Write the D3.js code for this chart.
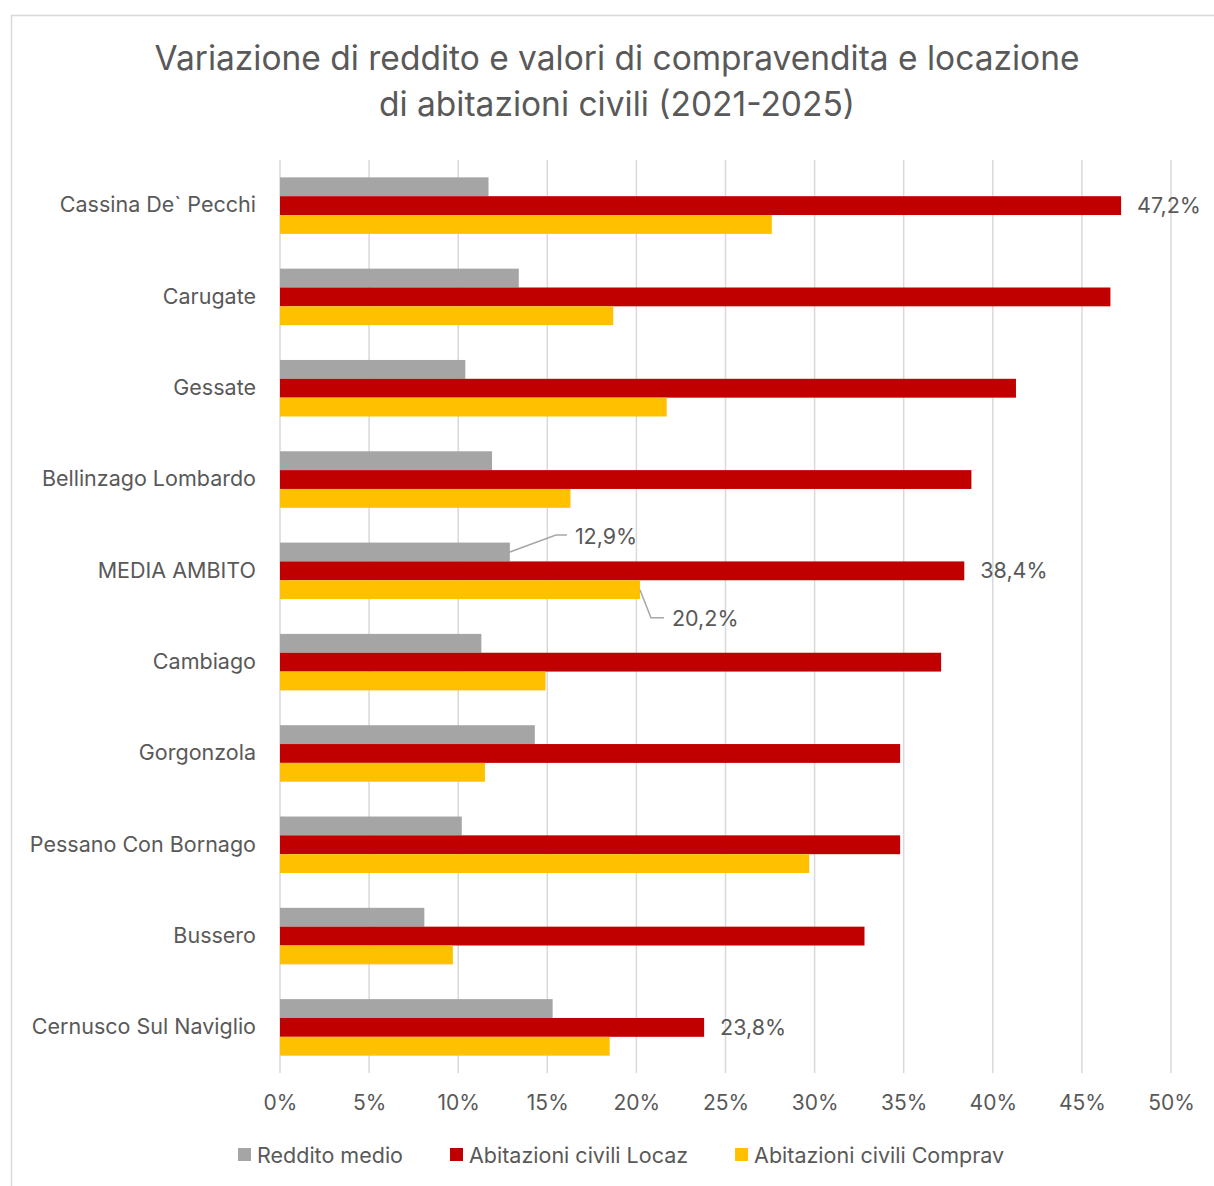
<!DOCTYPE html>
<html>
<head>
<meta charset="utf-8">
<script src="https://cdn.jsdelivr.net/npm/d3@7"></script>
<style>
  body { margin: 0; background: #fff; }
  svg text { font-family: "Inter", "Open Sans", sans-serif; fill: #595959; }
</style>
</head>
<body>
<svg id="chart" width="1214" height="1186"></svg>
<script>
// --- data ---
const comuni = [
    "Cassina De` Pecchi", "Carugate", "Gessate", "Bellinzago Lombardo", "MEDIA AMBITO",
    "Cambiago", "Gorgonzola", "Pessano Con Bornago", "Bussero", "Cernusco Sul Naviglio"
];
const serie = ["Reddito medio", "Abitazioni civili Locaz", "Abitazioni civili Comprav"];
const reddito = [11.7, 13.4, 10.4, 11.9, 12.9, 11.3, 14.3, 10.2, 8.1, 15.3];
const locaz   = [47.2, 46.6, 41.3, 38.8, 38.4, 37.1, 34.8, 34.8, 32.8, 23.8];
const comprav = [27.6, 18.7, 21.7, 16.3, 20.2, 14.9, 11.5, 29.7, 9.7, 18.5];
const xTicks = [0, 5, 10, 15, 20, 25, 30, 35, 40, 45, 50];
const colori = ["#A5A5A5", "#C00000", "#FFC000"];

const svg = d3.select("#chart");
const fmt = v => d3.format(".1f")(v).replace(".", ",") + "%";
const FONT = '"Inter", "Open Sans", sans-serif';

// chart frame
svg.append("rect").attr("x", 11.5).attr("y", 15.5).attr("width", 1220).attr("height", 1200)
    .attr("fill", "#fff").attr("stroke", "#d9d9d9").attr("stroke-width", 1.5);

// title
const title = svg.append("text").attr("text-anchor", "middle").attr("font-size", 33.5);
title.append("tspan").attr("x", 617).attr("y", 70).text("Variazione di reddito e valori di compravendita e locazione");
title.append("tspan").attr("x", 617).attr("y", 116).text("di abitazioni civili (2021-2025)");

// scales
const x = d3.scaleLinear().domain([0, 50]).range([280, 1171]);
const y = d3.scaleBand().domain(comuni).range([160, 1073]).paddingInner(0.381).paddingOuter(0.19);
const ySub = d3.scaleBand().domain(serie).range([0, y.bandwidth()]);

// grid
svg.append("g").attr("class", "grid").selectAll("line").data(xTicks).enter().append("line")
    .attr("x1", d => x(d)).attr("x2", d => x(d))
    .attr("y1", 160).attr("y2", 1073)
    .attr("stroke", "#d9d9d9").attr("stroke-width", 1.5);

// x axis labels
const xAxis = svg.append("g").attr("transform", "translate(0,1103)")
    .call(d3.axisBottom(x).tickValues(xTicks).tickSize(0).tickPadding(0).tickFormat(d => d + "%"));
xAxis.select(".domain").remove();
xAxis.selectAll("text").attr("font-size", 21).attr("dy", "0.35em").attr("fill", "#595959")
    .style("font-family", FONT);

// y axis labels
const yAxis = svg.append("g").attr("transform", "translate(256,0)")
    .call(d3.axisLeft(y).tickSize(0).tickPadding(0));
yAxis.select(".domain").remove();
yAxis.selectAll("text").attr("font-size", 21.5).attr("fill", "#595959")
    .style("font-family", FONT);

// bars
const rows = comuni.map((c, i) => ({ comune: c, values: [reddito[i], locaz[i], comprav[i]] }));
const groups = svg.append("g").attr("class", "bars").selectAll("g").data(rows).enter().append("g")
    .attr("transform", d => `translate(0,${y(d.comune)})`);
groups.selectAll("rect").data(d => d.values.map((v, k) => ({ serie: serie[k], k, v }))).enter().append("rect")
    .attr("x", x(0))
    .attr("y", d => ySub(d.serie))
    .attr("width", d => x(d.v) - x(0))
    .attr("height", ySub.bandwidth())
    .attr("fill", d => colori[d.k]);

// data labels (only the ones shown in the chart)
const labels = [
    { comune: "Cassina De` Pecchi", k: 1, v: locaz[0] },
    { comune: "MEDIA AMBITO", k: 1, v: locaz[4] },
    { comune: "Cernusco Sul Naviglio", k: 1, v: locaz[9] }
];
svg.append("g").selectAll("text").data(labels).enter().append("text")
    .attr("x", d => x(d.v) + 16)
    .attr("y", d => y(d.comune) + ySub(serie[d.k]) + ySub.bandwidth() / 2)
    .attr("dy", "0.35em").attr("font-size", 21.5)
    .text(d => fmt(d.v));

// callout labels with leader lines for MEDIA AMBITO
const yMedia = y("MEDIA AMBITO");
const callouts = [
    { v: reddito[4], k: 0, dx: 46, dy: -17, tail: 11 },
    { v: comprav[4], k: 2, dx: 11, dy: 28, tail: 13 }
];
callouts.forEach(c => {
    const x0 = x(c.v);
    const y0 = yMedia + ySub(serie[c.k]) + ySub.bandwidth() * 0.5;
    const x1 = x0 + c.dx, y1 = y0 + c.dy;
    svg.append("polyline")
        .attr("points", `${x0},${y0} ${x1},${y1} ${x1 + c.tail},${y1}`)
        .attr("fill", "none").attr("stroke", "#a6a6a6").attr("stroke-width", 1.5);
    svg.append("text").attr("x", x1 + c.tail + 8).attr("y", y1 + 1).attr("dy", "0.35em")
        .attr("font-size", 21.5).text(fmt(c.v));
});

// legend
const legend = svg.append("g").attr("transform", "translate(0,1155)");
let lx = 238;
serie.forEach((s, k) => {
    legend.append("rect").attr("x", lx).attr("y", -7).attr("width", 13).attr("height", 13).attr("fill", colori[k]);
    const t = legend.append("text").attr("x", lx + 19).attr("dy", "0.35em").attr("font-size", 21.5).text(s);
    lx += 19 + t.node().getComputedTextLength() + 47;
});
</script>
</body>
</html>
